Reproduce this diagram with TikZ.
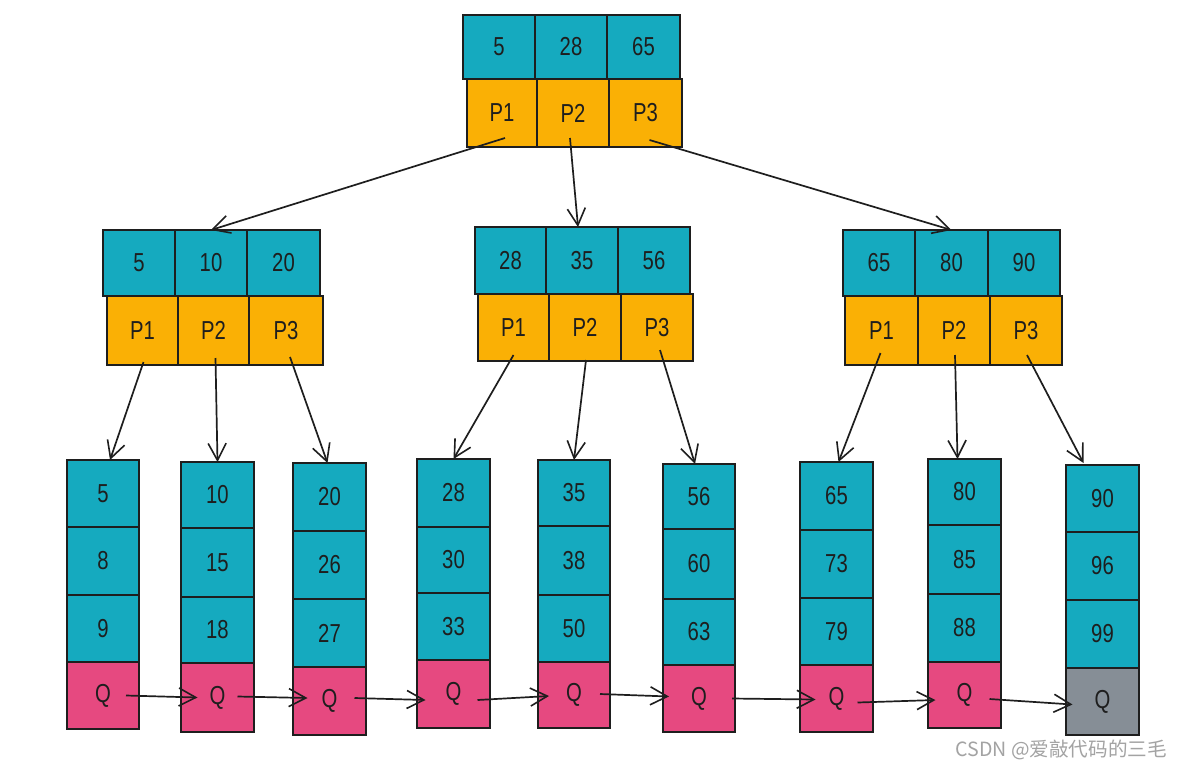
\documentclass[tikz,border=0pt]{standalone}
\usepackage{fontspec}
\setmainfont{Liberation Sans}[FakeStretch=0.78]
\newfontfamily\cjkfont{Noto Sans CJK SC}
\usetikzlibrary{arrows.meta,calc}
\definecolor{cyanf}{HTML}{15AABF}
\definecolor{orangef}{HTML}{FAB005}
\definecolor{pinkf}{HTML}{E64980}
\definecolor{grayf}{HTML}{868E96}
\definecolor{ink}{HTML}{1E1E1E}
\definecolor{wmgray}{HTML}{A3A3A3}
\tikzset{
  cellbox/.style={draw=ink, line width=2pt, inner sep=0pt, outer sep=0pt, text=ink,
    font=\fontsize{26}{30}\selectfont},
  arr/.style={draw=ink, line width=1.7pt,
    -{Straight Barb[length=17pt,width=18pt,line width=1.6pt]}},
}
\newcommand\mkcell[7]{\node[cellbox,fill=#6,minimum width={(#4-#2)*1pt},minimum height={(#5-#3)*1pt}] (#1) at ({(#2+#4)/2},{(#3+#5)/2}) {#7};}
\begin{document}
\begin{tikzpicture}[x=1pt,y=-1pt]
\useasboundingbox[fill=white] (0,0) rectangle (1182,769);
% top node
\mkcell{t1}{463}{15}{535}{79}{cyanf}{5}
\mkcell{t2}{535}{15}{607}{79}{cyanf}{28}
\mkcell{t3}{607}{15}{680}{79}{cyanf}{65}
\mkcell{tp1}{467}{79}{537}{147}{orangef}{P1}
\mkcell{tp2}{537}{79}{609}{147}{orangef}{P2}
\mkcell{tp3}{609}{79}{682}{147}{orangef}{P3}
% left node
\mkcell{l1}{103}{230}{175}{296}{cyanf}{5}
\mkcell{l2}{175}{230}{247}{296}{cyanf}{10}
\mkcell{l3}{247}{230}{320}{296}{cyanf}{20}
\mkcell{lp1}{107}{296}{178}{365}{orangef}{P1}
\mkcell{lp2}{178}{296}{249}{365}{orangef}{P2}
\mkcell{lp3}{249}{296}{323}{365}{orangef}{P3}
% middle node
\mkcell{m1}{475}{227}{546}{294}{cyanf}{28}
\mkcell{m2}{546}{227}{618}{294}{cyanf}{35}
\mkcell{m3}{618}{227}{690}{294}{cyanf}{56}
\mkcell{mp1}{478}{294}{549}{361}{orangef}{P1}
\mkcell{mp2}{549}{294}{621}{361}{orangef}{P2}
\mkcell{mp3}{621}{294}{693}{361}{orangef}{P3}
% right node
\mkcell{r1}{843}{230}{915}{296}{cyanf}{65}
\mkcell{r2}{915}{230}{988}{296}{cyanf}{80}
\mkcell{r3}{988}{230}{1060}{296}{cyanf}{90}
\mkcell{rp1}{845}{296}{918}{365}{orangef}{P1}
\mkcell{rp2}{918}{296}{990}{365}{orangef}{P2}
\mkcell{rp3}{990}{296}{1062}{365}{orangef}{P3}
% leaves
\mkcell{c1a}{67}{460}{139}{527}{cyanf}{5}
\mkcell{c1b}{67}{527}{139}{595}{cyanf}{8}
\mkcell{c1c}{67}{595}{139}{662}{cyanf}{9}
\mkcell{c1d}{67}{662}{139}{729}{pinkf}{Q}
\mkcell{c2a}{181}{462}{254}{528}{cyanf}{10}
\mkcell{c2b}{181}{528}{254}{597}{cyanf}{15}
\mkcell{c2c}{181}{597}{254}{663}{cyanf}{18}
\mkcell{c2d}{181}{663}{254}{732}{pinkf}{Q}
\mkcell{c3a}{293}{463}{366}{531}{cyanf}{20}
\mkcell{c3b}{293}{531}{366}{599}{cyanf}{26}
\mkcell{c3c}{293}{599}{366}{667}{cyanf}{27}
\mkcell{c3d}{293}{667}{366}{735}{pinkf}{Q}
\mkcell{c4a}{417}{459}{490}{527}{cyanf}{28}
\mkcell{c4b}{417}{527}{490}{593}{cyanf}{30}
\mkcell{c4c}{417}{593}{490}{660}{cyanf}{33}
\mkcell{c4d}{417}{660}{490}{728}{pinkf}{Q}
\mkcell{c5a}{538}{460}{610}{526}{cyanf}{35}
\mkcell{c5b}{538}{526}{610}{595}{cyanf}{38}
\mkcell{c5c}{538}{595}{610}{662}{cyanf}{50}
\mkcell{c5d}{538}{662}{610}{728}{pinkf}{Q}
\mkcell{c6a}{663}{464}{735}{529}{cyanf}{56}
\mkcell{c6b}{663}{529}{735}{599}{cyanf}{60}
\mkcell{c6c}{663}{599}{735}{665}{cyanf}{63}
\mkcell{c6d}{663}{665}{735}{732}{pinkf}{Q}
\mkcell{c7a}{800}{462}{873}{530}{cyanf}{65}
\mkcell{c7b}{800}{530}{873}{598}{cyanf}{73}
\mkcell{c7c}{800}{598}{873}{665}{cyanf}{79}
\mkcell{c7d}{800}{665}{873}{732}{pinkf}{Q}
\mkcell{c8a}{928}{459}{1001}{525}{cyanf}{80}
\mkcell{c8b}{928}{525}{1001}{594}{cyanf}{85}
\mkcell{c8c}{928}{594}{1001}{662}{cyanf}{88}
\mkcell{c8d}{928}{662}{1001}{728}{pinkf}{Q}
\mkcell{c9a}{1066}{465}{1139}{532}{cyanf}{90}
\mkcell{c9b}{1066}{532}{1139}{600}{cyanf}{96}
\mkcell{c9c}{1066}{600}{1139}{668}{cyanf}{99}
\mkcell{c9d}{1066}{668}{1139}{735}{grayf}{Q}
% top -> middle level
\draw[arr] ($(tp1.south)+(3,-9)$) -- (l2.north);
\draw[arr] ($(tp2.south)+(-3,-9)$) -- ($(m2.north)+(-4,0)$);
\draw[arr] ($(tp3.south)+(4,-7)$) -- (r2.north);
% middle level -> leaves
\draw[arr] ($(lp1.south)+(1,-3)$) -- ($(c1a.north)+(7,0)$);
\draw[arr] ($(lp2.south)+(2,-7)$) -- (c2a.north);
\draw[arr] ($(lp3.south)+(4,-8)$) -- ($(c3a.north)+(-2,0)$);
\draw[arr] ($(mp1.south)+(0,-6)$) -- (c4a.north);
\draw[arr] ($(mp2.south)+(1,-1)$) -- (c5a.north);
\draw[arr] ($(mp3.south)+(3,-11)$) -- ($(c6a.north)+(-4,0)$);
\draw[arr] ($(rp1.south)+(-1,-12)$) -- ($(c7a.north)+(2,0)$);
\draw[arr] ($(rp2.south)+(1,-10)$) -- ($(c8a.north)+(-7,0)$);
\draw[arr] ($(rp3.south)+(1,-10)$) -- ($(c9a.north)+(-19,-2)$);
% leaf chain
\draw[arr] ($(c1d.center)+(23,0)$) -- ($(c2d.center)+(-20,0)$);
\draw[arr] ($(c2d.center)+(20,-1)$) -- ($(c3d.center)+(-22,-3)$);
\draw[arr] ($(c3d.center)+(25,-3)$) -- ($(c4d.center)+(-28,6)$);
\draw[arr] ($(c4d.center)+(24,6)$) -- ($(c5d.center)+(-25,1)$);
\draw[arr] ($(c5d.center)+(26,-1)$) -- ($(c6d.center)+(-30,-2)$);
\draw[arr] ($(c6d.center)+(33,0)$) -- ($(c7d.center)+(-21,1)$);
\draw[arr] ($(c7d.center)+(21,4)$) -- ($(c8d.center)+(-29,5)$);
\draw[arr] ($(c8d.center)+(25,4)$) -- ($(c9d.center)+(-30,3)$);
% watermark
\node[font=\cjkfont\fontsize{19.6}{23}\selectfont, text=wmgray, anchor=east, inner sep=0pt] (wm) at (1167,750) {CSDN @爱敲代码的三毛};
\end{tikzpicture}
\end{document}
